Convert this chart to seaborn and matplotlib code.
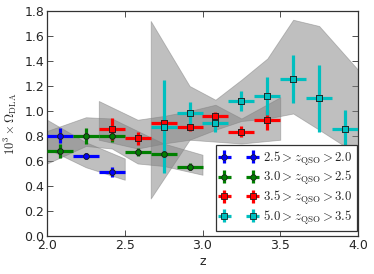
import numpy as np
import matplotlib
matplotlib.use("Agg")
import matplotlib.pyplot as plt
import seaborn as sns
import pandas as pd

# ---------------- data ----------------
half_bin = 1.0 / 12.0

z_blue = [2.083, 2.25, 2.417]
v_blue = [0.80, 0.64, 0.515]
e_blue = [0.06, 0.025, 0.04]
bz_blue = [2.0, 2.25, 2.5]
blo_blue = [0.70, 0.55, 0.45]
bhi_blue = [0.93, 0.75, 0.62]

z_green = [2.083, 2.25, 2.417, 2.583, 2.75, 2.917]
v_green = [0.68, 0.80, 0.80, 0.67, 0.655, 0.555]
e_green = [0.055, 0.065, 0.05, 0.03, 0.03, 0.03]
bz_green = [2.0, 2.25, 2.417, 2.583, 2.75, 3.0]
blo_green = [0.58, 0.72, 0.70, 0.58, 0.56, 0.49]
bhi_green = [0.84, 0.95, 0.94, 0.84, 0.74, 0.65]

z_red = [2.417, 2.583, 2.75, 2.917, 3.083, 3.25, 3.417]
v_red = [0.855, 0.78, 0.90, 0.87, 0.96, 0.835, 0.93]
e_red = [0.09, 0.05, 0.05, 0.03, 0.03, 0.045, 0.08]
bz_red = [2.333, 2.583, 2.75, 2.917, 3.083, 3.25, 3.5]
blo_red = [0.77, 0.70, 0.74, 0.77, 0.755, 0.74, 0.77]
bhi_red = [1.08, 0.93, 0.96, 1.00, 1.05, 0.94, 1.11]

z_cyan = [2.75, 2.917, 3.083, 3.25, 3.417, 3.583, 3.75, 3.917]
v_cyan = [0.875, 0.98, 0.905, 1.08, 1.12, 1.255, 1.10, 0.855]
e_cyan = [0.37, 0.09, 0.07, 0.08, 0.15, 0.19, 0.27, 0.15]
bz_cyan = [2.667, 2.917, 3.083, 3.25, 3.417, 3.583, 3.75, 4.0]
blo_cyan = [0.30, 0.77, 0.85, 0.92, 0.94, 0.98, 0.85, 0.65]
bhi_cyan = [1.72, 1.20, 1.09, 1.25, 1.42, 1.73, 1.68, 1.33]

labels = [r"$2.5 > z_{\rm QSO} > 2.0$",
          r"$3.0 > z_{\rm QSO} > 2.5$",
          r"$3.5 > z_{\rm QSO} > 3.0$",
          r"$5.0 > z_{\rm QSO} > 3.5$"]
colors = ["#0000ff", "#007f00", "#ff0000", "#00bfbf"]
markers = ["o", "o", "s", "s"]

series = [
    (z_blue, v_blue, e_blue, bz_blue, blo_blue, bhi_blue),
    (z_green, v_green, e_green, bz_green, blo_green, bhi_green),
    (z_red, v_red, e_red, bz_red, blo_red, bhi_red),
    (z_cyan, v_cyan, e_cyan, bz_cyan, blo_cyan, bhi_cyan),
]

# ---------------- style ----------------
sns.set_style("ticks")
plt.rcParams["font.family"] = ["DejaVu Sans"]
plt.rcParams["mathtext.fontset"] = "cm"
plt.rcParams["xtick.direction"] = "in"
plt.rcParams["ytick.direction"] = "in"
plt.rcParams["xtick.top"] = True
plt.rcParams["ytick.right"] = True

fig = plt.figure(figsize=(3.74, 2.74), dpi=100)
ax = fig.add_axes([47 / 374, 1 - 236 / 274, (358 - 47) / 374, (236 - 11) / 274])

# bands
for (z, v, e, bz, blo, bhi) in series:
    ax.fill_between(bz, blo, bhi, facecolor="gray", edgecolor="gray",
                    alpha=0.5, linewidth=0.6, zorder=1)

handles = []
for i, (z, v, e, bz, blo, bhi) in enumerate(series):
    h = ax.errorbar(z, v, xerr=half_bin, yerr=e, fmt=markers[i],
                    color=colors[i], ecolor=colors[i], elinewidth=2.3,
                    capsize=0, markersize=4, markeredgecolor="#202020",
                    markeredgewidth=0.6, label=labels[i], zorder=3)
    handles.append(h)
    df = pd.DataFrame({"z": z, "v": v})
    sns.scatterplot(data=df, x="z", y="v", ax=ax, marker=markers[i],
                    color=colors[i], s=16, edgecolor="#202020",
                    linewidth=0.6, zorder=4, legend=False)

ax.set_xlim(2.0, 4.0)
ax.set_ylim(0.0, 1.8)
ax.set_xticks([2.0, 2.5, 3.0, 3.5, 4.0])
ax.set_yticks(np.arange(0, 1.81, 0.2))
ax.set_xticklabels(["2.0", "2.5", "3.0", "3.5", "4.0"])
ax.set_yticklabels(["%.1f" % t for t in np.arange(0, 1.81, 0.2)])
ax.tick_params(labelsize=9, length=4, width=0.6, color="#333333", pad=2)
for s in ax.spines.values():
    s.set_color("#333333")
    s.set_linewidth(0.9)
ax.set_xlabel("z", fontsize=9, labelpad=2)
ax.set_ylabel(r"$10^3 \times \Omega_{\rm DLA}$", fontsize=9, labelpad=4)

leg = ax.legend(handles=handles, labels=labels, loc="lower right",
                bbox_to_anchor=(0.997, 0.022), borderaxespad=0,
                numpoints=2, fontsize=9.3, fancybox=False, frameon=True,
                handlelength=2.8, handletextpad=0.5, labelspacing=0.12,
                borderpad=0.35)
leg.get_frame().set_edgecolor("#333333")
leg.get_frame().set_linewidth(0.9)
leg.get_frame().set_alpha(1.0)

fig.savefig("out.png", dpi=100)
